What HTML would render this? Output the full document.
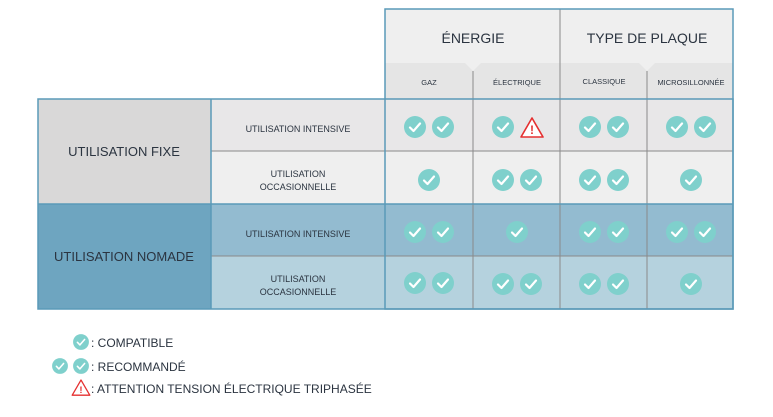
<!DOCTYPE html>
<html><head><meta charset="utf-8"><style>
body{margin:0;background:#fff;width:773px;height:412px;overflow:hidden}
svg text{font-family:"Liberation Sans",sans-serif;fill:#2b3440}
</style></head><body>
<svg width="773" height="412" xmlns="http://www.w3.org/2000/svg">
<defs>
<g id="ck"><circle r="11" fill="#7fd0cc"/><path d="M-5,0.5 L-1.5,4 L5,-3.5" fill="none" stroke="#fff" stroke-width="2.2" stroke-linecap="round" stroke-linejoin="round"/></g>
<g id="wr"><path d="M0,-10 L11,9 L-11,9 Z" fill="#fff" stroke="#e53030" stroke-width="1.6" stroke-linejoin="round"/><text x="0" y="6" font-size="12" font-weight="bold" text-anchor="middle" style="fill:#e53030">!</text></g>
</defs>
<!-- header -->
<rect x="385" y="9" width="348" height="90" fill="#efefef"/>
<path d="M385,63 L465,63 L473,71 L481,63 L639,63 L647,71 L655,63 L733,63 L733,99 L385,99 Z" fill="#e5e5e5"/>
<text x="473" y="43" font-size="14" text-anchor="middle">ÉNERGIE</text>
<text x="647" y="43" font-size="14" text-anchor="middle">TYPE DE PLAQUE</text>
<text x="429" y="85" font-size="7.5" text-anchor="middle">GAZ</text>
<text x="517" y="85" font-size="7.5" text-anchor="middle">ÉLECTRIQUE</text>
<text x="604" y="84" font-size="7.5" text-anchor="middle">CLASSIQUE</text>
<text x="691" y="85" font-size="7.5" text-anchor="middle">MICROSILLONNÉE</text>
<!-- rows -->
<rect x="38" y="99" width="173" height="105" fill="#d9d8d8"/>
<rect x="38" y="204" width="173" height="105" fill="#6ea5c0"/>
<rect x="211" y="99" width="522" height="52" fill="#e8e7e8"/>
<rect x="211" y="151" width="522" height="53" fill="#efefef"/>
<rect x="211" y="204" width="522" height="52" fill="#93bbd0"/>
<rect x="211" y="256" width="522" height="53" fill="#b5d2de"/>
<!-- lines -->
<g stroke="#8a8a8a" stroke-width="1">
<line x1="211" y1="151" x2="733" y2="151"/><line x1="211" y1="256" x2="733" y2="256"/>
<line x1="473" y1="71" x2="473" y2="309"/><line x1="647" y1="71" x2="647" y2="309"/>
<line x1="560" y1="9" x2="560" y2="309"/>
</g>
<g stroke="#5a9ab8" stroke-width="1.5" fill="none">
<rect x="385" y="9" width="348" height="300"/>
<rect x="38" y="99" width="695" height="210"/>
<line x1="38" y1="204" x2="733" y2="204"/>
<line x1="211" y1="99" x2="211" y2="309"/>
</g>
<text x="124" y="156" font-size="13" text-anchor="middle">UTILISATION FIXE</text>
<text x="124" y="261" font-size="13" text-anchor="middle">UTILISATION NOMADE</text>
<g font-size="9" text-anchor="middle">
<text x="298" y="132">UTILISATION INTENSIVE</text>
<text x="298" y="177">UTILISATION</text><text x="298" y="190">OCCASIONNELLE</text>
<text x="298" y="237">UTILISATION INTENSIVE</text>
<text x="298" y="282">UTILISATION</text><text x="298" y="295">OCCASIONNELLE</text>
</g>
<!-- checks -->
<use href="#ck" x="415" y="127"/><use href="#ck" x="443" y="127"/>
<use href="#ck" x="503" y="127"/><use href="#wr" x="532" y="128"/>
<use href="#ck" x="590" y="127"/><use href="#ck" x="618" y="127"/>
<use href="#ck" x="677" y="127"/><use href="#ck" x="705" y="127"/>

<use href="#ck" x="429" y="180"/>
<use href="#ck" x="503" y="180"/><use href="#ck" x="531" y="180"/>
<use href="#ck" x="590" y="180"/><use href="#ck" x="618" y="180"/>
<use href="#ck" x="691" y="180"/>

<use href="#ck" x="415" y="232"/><use href="#ck" x="443" y="232"/>
<use href="#ck" x="517" y="232"/>
<use href="#ck" x="590" y="232"/><use href="#ck" x="618" y="232"/>
<use href="#ck" x="677" y="232"/><use href="#ck" x="705" y="232"/>

<use href="#ck" x="415" y="283"/><use href="#ck" x="443" y="283"/>
<use href="#ck" x="503" y="284"/><use href="#ck" x="531" y="284"/>
<use href="#ck" x="590" y="284"/><use href="#ck" x="618" y="284"/>
<use href="#ck" x="691" y="284"/>
<!-- legend -->
<g transform="translate(81,342) scale(0.72)"><use href="#ck"/></g>
<g transform="translate(60,366) scale(0.72)"><use href="#ck"/></g>
<g transform="translate(81,366) scale(0.72)"><use href="#ck"/></g>
<g transform="translate(81,388) scale(0.8)"><use href="#wr"/></g>
<g font-size="12">
<text x="91" y="347">: COMPATIBLE</text>
<text x="91" y="371">: RECOMMANDÉ</text>
<text x="91" y="393">: ATTENTION TENSION ÉLECTRIQUE TRIPHASÉE</text>
</g>
</svg>
</body></html>
